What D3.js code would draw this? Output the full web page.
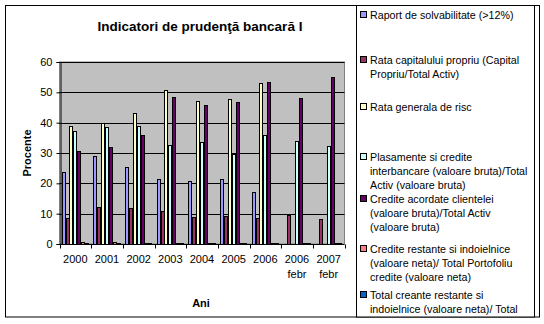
<!DOCTYPE html>
<html><head><meta charset="utf-8">
<script src="https://cdn.jsdelivr.net/npm/d3@7"></script>
<style>body{margin:0;background:#fff}svg{display:block}text{font-family:"Liberation Sans",Arial,sans-serif}</style>
</head><body>
<svg id="c" width="544" height="324"></svg>
<script>
const categories = ["2000","2001","2002","2003","2004","2005","2006","2006 febr","2007 febr"];
const seriesNames = [
  ["Raport de solvabilitate (>12%)"],
  ["Rata capitalului propriu (Capital","Propriu/Total Activ)"],
  ["Rata generala de risc"],
  ["Plasamente si credite","interbancare (valoare bruta)/Total","Activ (valoare bruta)"],
  ["Credite acordate clientelei","(valoare bruta)/Total Activ","(valoare bruta)"],
  ["Credite restante si indoielnice","(valoare neta)/ Total Portofoliu","credite (valoare neta)"],
  ["Total creante restante si","indoielnice (valoare neta)/ Total"]
];
const solvabilitate = [23.8, 28.9, 25.4, 21.4, 20.8, 21.3, 17.3, null, null];
const capitalPropriu = [8.5, 12.1, 11.8, 10.8, 8.8, 9.1, 8.5, 9.6, 8.1];
const riscGeneral = [38.9, 39.9, 43.2, 50.7, 47.1, 47.7, 53.1, null, null];
const plasamente = [37.3, 38.6, 38.9, 32.6, 33.6, 29.6, 35.8, 34.0, 32.2];
const crediteClientela = [30.7, 32.0, 35.9, 48.5, 45.8, 46.7, 53.4, 48.0, 55.1];
const crediteRestante = [0.6, 0.5, 0.2, 0.2, 0.2, 0.2, 0.2, 0.2, 0.2];
const creanteRestante = [0.3, 0.3, 0.2, 0.2, 0.2, 0.2, 0.2, 0.2, 0.2];
const yTicks = [0, 10, 20, 30, 40, 50, 60];
const colors = ["#9999FF","#993366","#FFFFCC","#CCFFFF","#660066","#FF8080","#0066CC"];

const series = [solvabilitate, capitalPropriu, riscGeneral, plasamente, crediteClientela, crediteRestante, creanteRestante];

const svg = d3.select("#c");
const L = 59.5, R = 344.5, T = 62, B = 244;

// chart border
svg.append("rect").attr("x",5.5).attr("y",5.5).attr("width",534).attr("height",311.5)
  .attr("fill","#fff").attr("stroke","#000").attr("stroke-width",1);

const x0 = d3.scaleBand().domain(categories).range([L, R]).paddingInner(0.138).paddingOuter(0.069);
const x1 = d3.scaleBand().domain(d3.range(series.length)).range([0, x0.bandwidth()]);
const y = d3.scaleLinear().domain([0, 60]).range([B, T]);

// plot area
svg.append("rect").attr("x",L).attr("y",T).attr("width",R-L).attr("height",B-T)
  .attr("fill","#C0C0C0").attr("stroke","#808080").attr("stroke-width",1);

// gridlines
svg.append("g").selectAll("line").data(yTicks.filter(d=>d>0)).join("line")
  .attr("x1",L).attr("x2",R).attr("y1",d=>Math.round(y(d))+0.5).attr("y2",d=>Math.round(y(d))+0.5)
  .attr("stroke","#000").attr("stroke-width",1);

// bars
const g = svg.append("g").attr("shape-rendering","crispEdges");
series.forEach((vals, si) => {
  g.append("g").selectAll("rect").data(vals.map((v,i)=>({v, c:categories[i]})).filter(d=>d.v!=null)).join("rect")
    .attr("x", d => Math.round(x0(d.c) + x1(si)) + 0.5)
    .attr("width", Math.max(1, Math.round(x1.bandwidth()) - 1))
    .attr("y", d => Math.round(y(d.v)) + 0.5)
    .attr("height", d => Math.max(0, Math.round(B) - Math.round(y(d.v))))
    .attr("fill", colors[si]).attr("stroke","#000").attr("stroke-width",1);
});

// y axis
const yAxis = d3.axisLeft(y).tickValues(yTicks).tickSize(4).tickPadding(4);
const ya = svg.append("g").attr("transform",`translate(${Math.round(L)+0.5},0)`).call(yAxis);
ya.select(".domain").attr("stroke","#000");
ya.selectAll("text").attr("font-size","11px").attr("fill","#000");
ya.selectAll("line").attr("stroke","#000");

// x axis
const xa = svg.append("g").attr("transform",`translate(0,${Math.round(B)+0.5})`);
xa.append("line").attr("x1",L).attr("x2",R).attr("stroke","#000");
const step = x0.step();
const bounds = categories.map(c => x0(c) - step*x0.paddingInner()/2).concat([R]);
xa.selectAll("line.t").data(bounds).join("line").attr("class","t")
  .attr("x1",d=>Math.round(d)+0.5).attr("x2",d=>Math.round(d)+0.5).attr("y1",0).attr("y2",4).attr("stroke","#000");
categories.forEach(c => {
  const parts = c.split(" ");
  const t = xa.append("text").attr("x", x0(c)+x0.bandwidth()/2).attr("text-anchor","middle")
    .attr("font-size","11px").attr("fill","#000");
  parts.forEach((p,i)=> t.append("tspan").attr("x", x0(c)+x0.bandwidth()/2).attr("y", 18 + i*15).text(p));
});

// titles
svg.append("text").attr("x",200).attr("y",31).attr("text-anchor","middle")
  .attr("font-size","13.5px").attr("font-weight","bold").text("Indicatori de prudenţă bancară I");
svg.append("text").attr("transform","translate(31,153) rotate(-90)").attr("text-anchor","middle")
  .attr("font-size","11px").attr("font-weight","bold").text("Procente");
svg.append("text").attr("x",201).attr("y",307).attr("text-anchor","middle")
  .attr("font-size","11px").attr("font-weight","bold").text("Ani");

// legend
const lg = svg.append("g");
lg.append("rect").attr("x",356.5).attr("y",5.5).attr("width",178).attr("height",311.5)
  .attr("fill","#fff").attr("stroke","#000");
const entryTops = [19, 64, 111, 161, 203, 253, 299];
seriesNames.forEach((lines, i) => {
  const yy = entryTops[i];
  lg.append("rect").attr("x",360.5).attr("y",yy-7.5).attr("width",6).attr("height",6)
    .attr("fill",colors[i]).attr("stroke","#000");
  lines.forEach((ln, j) => {
    lg.append("text").attr("x",370).attr("y",yy + j*13.8).attr("font-size","10.7px").attr("fill","#000").text(ln);
  });
});
</script>
</body></html>
